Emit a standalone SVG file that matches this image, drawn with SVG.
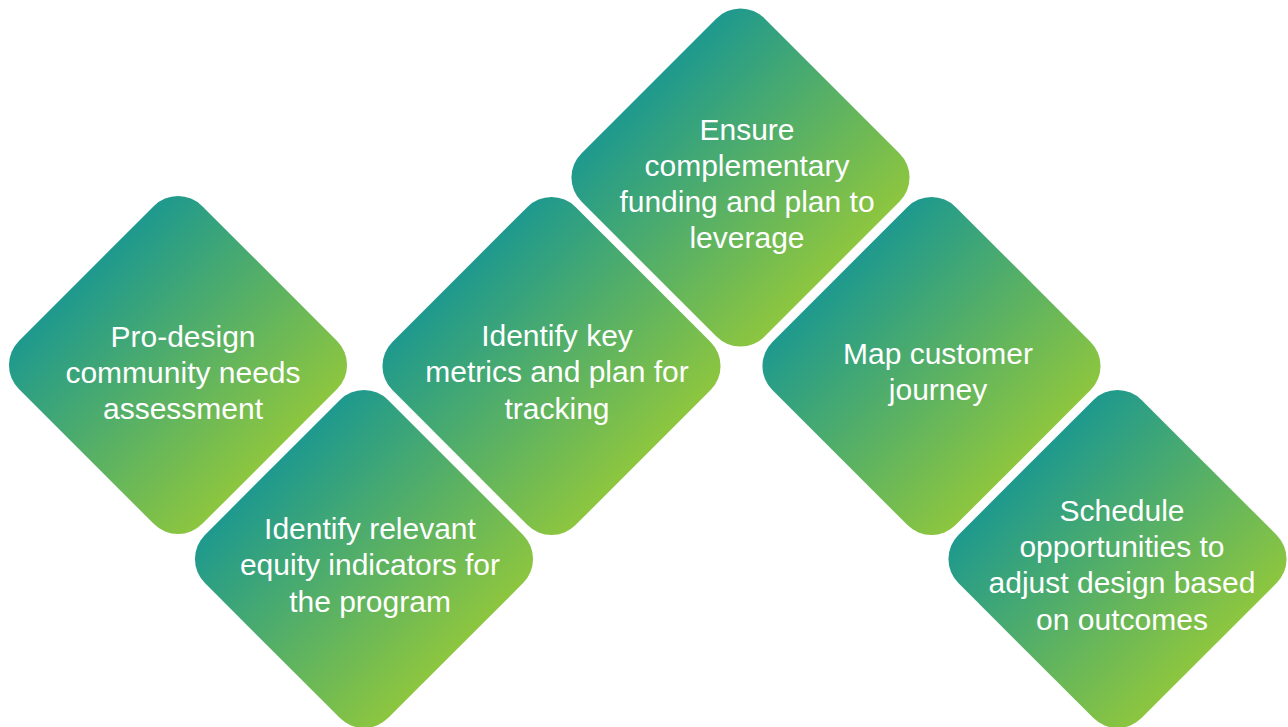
<svg xmlns="http://www.w3.org/2000/svg" width="1288" height="727" viewBox="0 0 1288 727">
  <style>
    .d { fill: url(#g); }
    .t { font-family: "Liberation Sans", Arial, sans-serif; font-size: 30px; fill: #ffffff; text-anchor: middle; }
  </style>
  <defs>
    <linearGradient id="g" x1="0" y1="0" x2="1" y2="0">
      <stop offset="0" stop-color="#1e998e"/>
      <stop offset="1" stop-color="#8dc63f"/>
    </linearGradient>
  </defs>
  <rect width="1288" height="727" fill="#ffffff"/>
  <g id="connectors"></g>
  <g id="node1">
    <rect class="d" x="-129.5" y="-129.5" width="259" height="259" rx="34" transform="translate(178,365) rotate(45)"/>
    <text class="t" x="183" y="347">Pro-design</text>
    <text class="t" x="183" y="383">community needs</text>
    <text class="t" x="183" y="419">assessment</text>
  </g>
  <g id="node2">
    <rect class="d" x="-129.5" y="-129.5" width="259" height="259" rx="34" transform="translate(364,559) rotate(45)"/>
    <text class="t" x="370" y="539">Identify relevant</text>
    <text class="t" x="370" y="575">equity indicators for</text>
    <text class="t" x="370" y="612">the program</text>
  </g>
  <g id="node3">
    <rect class="d" x="-129.5" y="-129.5" width="259" height="259" rx="34" transform="translate(551.5,366) rotate(45)"/>
    <text class="t" x="557" y="346">Identify key</text>
    <text class="t" x="557" y="382">metrics and plan for</text>
    <text class="t" x="557" y="419">tracking</text>
  </g>
  <g id="node4">
    <rect class="d" x="-129.5" y="-129.5" width="259" height="259" rx="34" transform="translate(740.5,177.5) rotate(45)"/>
    <text class="t" x="747" y="140">Ensure</text>
    <text class="t" x="747" y="176">complementary</text>
    <text class="t" x="747" y="212">funding and plan to</text>
    <text class="t" x="747" y="248">leverage</text>
  </g>
  <g id="node5">
    <rect class="d" x="-129.5" y="-129.5" width="259" height="259" rx="34" transform="translate(931.5,366) rotate(45)"/>
    <text class="t" x="938" y="364">Map customer</text>
    <text class="t" x="938" y="400">journey</text>
  </g>
  <g id="node6">
    <rect class="d" x="-129.5" y="-129.5" width="259" height="259" rx="34" transform="translate(1117.5,559) rotate(45)"/>
    <text class="t" x="1122" y="521">Schedule</text>
    <text class="t" x="1122" y="557">opportunities to</text>
    <text class="t" x="1122" y="593">adjust design based</text>
    <text class="t" x="1122" y="630">on outcomes</text>
  </g>
</svg>
